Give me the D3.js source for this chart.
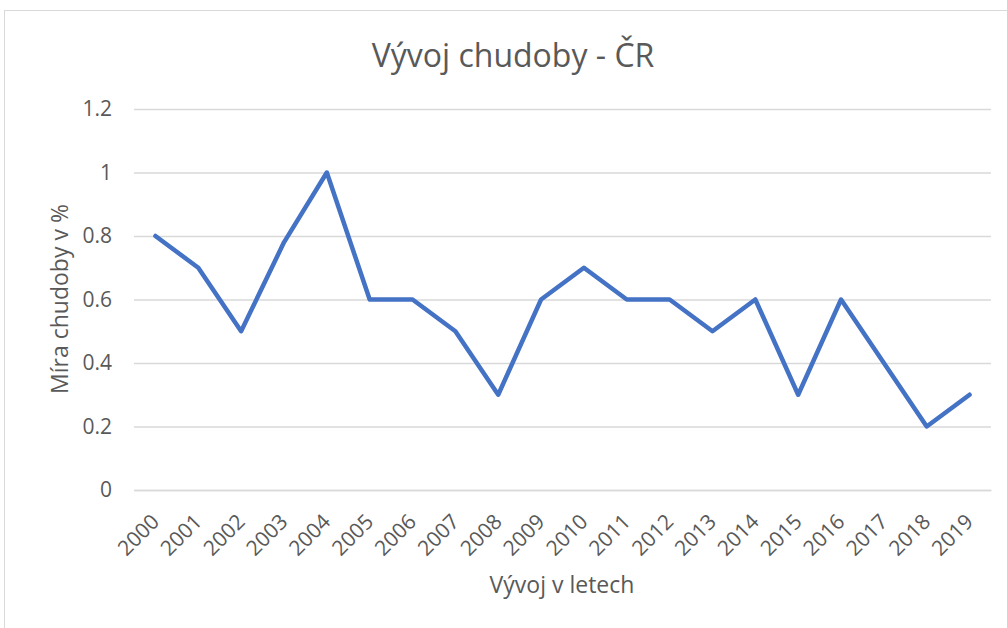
<!DOCTYPE html>
<html>
<head>
<meta charset="utf-8">
<script src="https://cdn.jsdelivr.net/npm/d3@7"></script>
<style>
  body { margin: 0; background: #fff; }
  text { font-family: "Open Sans", "Liberation Sans", sans-serif; fill: #595959; }
</style>
</head>
<body>
<div id="chart"></div>
<script>
// Data
let years = ["2000", "2001", "2002", "2003", "2004", "2005", "2006", "2007", "2008", "2009",
             "2010", "2011", "2012", "2013", "2014", "2015", "2016", "2017", "2018", "2019"];
let poverty = [0.8, 0.7, 0.5, 0.78, 1.0, 0.6, 0.6, 0.5, 0.3, 0.6,
               0.7, 0.6, 0.6, 0.5, 0.6, 0.3, 0.6, 0.4, 0.2, 0.3];
let yTicks = [0, 0.2, 0.4, 0.6, 0.8, 1.0, 1.2];

let width = 1007, height = 628;
let margin = {top: 109, right: 16, bottom: 138, left: 134};

let svg = d3.select("#chart").append("svg")
    .attr("width", width)
    .attr("height", height);

// Chart area border (cut off at right and bottom)
svg.append("rect")
    .attr("x", 4.5).attr("y", 10.5)
    .attr("width", width + 20).attr("height", height + 20)
    .attr("fill", "none")
    .attr("stroke", "#d9d9d9");

let x = d3.scaleBand()
    .domain(years)
    .range([margin.left, width - margin.right]);

let y = d3.scaleLinear()
    .domain([0, 1.2])
    .range([height - margin.bottom, margin.top]);

// Horizontal gridlines + y labels
let yAxis = d3.axisLeft(y)
    .tickValues(yTicks)
    .tickSize(-(width - margin.left - margin.right))
    .tickPadding(22)
    .tickFormat(d => d3.format("")(+d.toFixed(1)));

let gy = svg.append("g")
    .attr("transform", "translate(" + margin.left + ",0)")
    .call(yAxis);
gy.select(".domain").remove();
gy.selectAll("line").attr("stroke", "#d9d9d9").attr("stroke-width", 1.3);
gy.selectAll("text")
    .style("font-size", "21px")
    .attr("fill", "#595959");

// X axis with rotated labels
let xAxis = d3.axisBottom(x).tickSize(0).tickPadding(0);
let gx = svg.append("g")
    .attr("transform", "translate(0," + (height - margin.bottom) + ")")
    .call(xAxis);
gx.select(".domain").attr("stroke", "#d9d9d9").attr("stroke-width", 1.3);
gx.selectAll("text")
    .style("font-size", "21px")
    .attr("fill", "#595959")
    .attr("text-anchor", "end")
    .attr("dy", "0")
    .attr("transform", "translate(5,33) rotate(-45)");

// Line
let line = d3.line()
    .x((d, i) => x(years[i]) + x.bandwidth() / 2)
    .y(d => y(d));

svg.append("path")
    .datum(poverty)
    .attr("d", line)
    .attr("fill", "none")
    .attr("stroke", "#4472c4")
    .attr("stroke-width", 4.5)
    .attr("stroke-linejoin", "round")
    .attr("stroke-linecap", "round");

// Title
svg.append("text")
    .attr("x", 513).attr("y", 67)
    .attr("text-anchor", "middle")
    .style("font-size", "32px")
    .text("Vývoj chudoby - ČR");

// Axis titles
svg.append("text")
    .attr("x", 562).attr("y", 593)
    .attr("text-anchor", "middle")
    .style("font-size", "23px")
    .text("Vývoj v letech");

svg.append("text")
    .attr("transform", "translate(68,299) rotate(-90)")
    .attr("text-anchor", "middle")
    .style("font-size", "23px")
    .text("Míra chudoby v %");
</script>
</body>
</html>
